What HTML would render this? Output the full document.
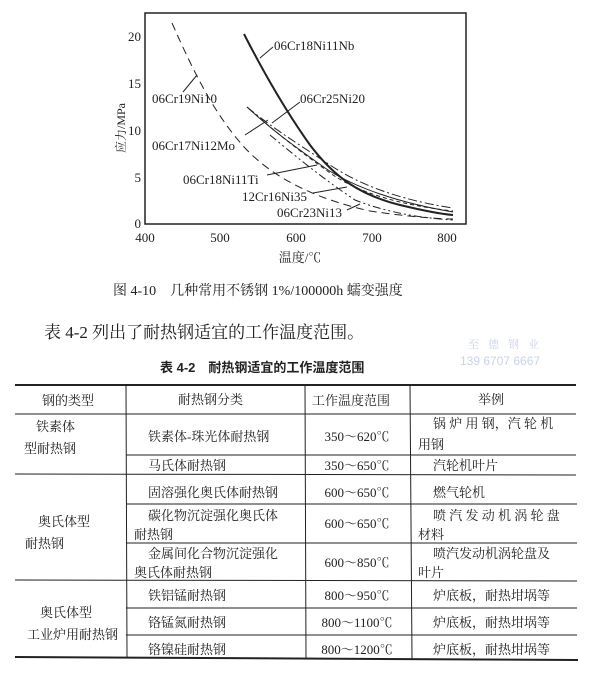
<!DOCTYPE html>
<html><head><meta charset="utf-8"><style>
body{margin:0;background:#fff;width:600px;height:678px;overflow:hidden;position:relative;font-family:"Liberation Serif","Noto Serif CJK SC",serif;color:#222}
.t{position:absolute;white-space:nowrap}
</style></head><body>
<svg width="600" height="310" style="position:absolute;left:0;top:0" font-family="Liberation Serif, Noto Serif CJK SC, serif" fill="#222">
<rect x="145" y="13" width="321" height="211" fill="none" stroke="#222" stroke-width="1.5"/>
<g font-size="13" text-anchor="end">
<text x="141" y="41">20</text><text x="141" y="88">15</text><text x="141" y="135">10</text><text x="141" y="182">5</text><text x="141" y="228">0</text>
</g>
<g font-size="13" text-anchor="middle">
<text x="145" y="242">400</text><text x="220" y="242">500</text><text x="296" y="242">600</text><text x="372" y="242">700</text><text x="447" y="242">800</text>
</g>
<text x="300" y="262" font-size="13" text-anchor="middle">温度/℃</text>
<text transform="translate(125,128) rotate(-90)" font-size="12" text-anchor="middle">应力/MPa</text>
<g fill="none" stroke="#222">
<path d="M244,34 C265,75 285,110 310,145 C335,178 360,195 400,205 C425,211 440,214 453,215" stroke-width="2"/>
<path d="M172,23 C195,75 215,115 245,148 C275,180 320,200 370,211 C410,217 440,219 453,219" stroke-width="1" stroke-dasharray="8,5"/>
<path d="M247,107 C275,130 300,145 330,165 C360,185 400,200 453,208" stroke-width="1" stroke-dasharray="9,3,2,3"/>
<path d="M247,107 C275,133 300,150 325,168 C355,188 400,203 453,212" stroke-width="1"/>
<path d="M255,114 C285,140 305,155 333,175 C360,193 400,205 453,211" stroke-width="1" stroke-dasharray="4,3"/>
<path d="M270,135 C300,160 325,180 355,200 C385,212 420,218 453,220" stroke-width="1" stroke-dasharray="8,3,2,3,2,3"/>
<path d="M260,58 L273,47"/>
<path d="M183,92 L197,75"/>
<path d="M300,102 L272,123"/>
<path d="M245,135 L268,120"/>
<path d="M267,175 L317,165"/>
<path d="M313,193 L347,187"/>
<path d="M347,210 L360,204"/>
</g>
<g font-size="13">
<text x="274" y="50">06Cr18Ni11Nb</text>
<text x="152" y="103">06Cr19Ni10</text>
<text x="300" y="103">06Cr25Ni20</text>
<text x="152" y="150">06Cr17Ni12Mo</text>
<text x="183" y="184">06Cr18Ni11Ti</text>
<text x="242" y="201">12Cr16Ni35</text>
<text x="277" y="217">06Cr23Ni13</text>
</g>
<text x="113" y="295" font-size="14">图 4-10　几种常用不锈钢 1%/100000h 蠕变强度</text>
</svg>
<div class="t" style="left:44px;top:318px;font-size:17px">表 4-2 列出了耐热钢适宜的工作温度范围。</div>
<div class="t" style="left:468px;top:336px;font-size:11px;color:#c9d3e8;letter-spacing:9px">至德钢业</div>
<div class="t" style="left:460px;top:354px;font-size:12px;color:#c9d3e8;font-family:'Liberation Sans',sans-serif">139 6707 6667</div>
<div class="t" style="left:160px;top:357px;font-size:13px;font-weight:bold;font-family:'Liberation Sans','Noto Sans CJK SC',sans-serif">表 4-2　耐热钢适宜的工作温度范围</div>
<svg width="600" height="678" style="position:absolute;left:0;top:0" font-family="Liberation Serif, Noto Serif CJK SC, serif" fill="#222" font-size="13">
<g stroke="#222" fill="none">
<line x1="15" y1="385" x2="576" y2="385" stroke-width="2"/>
<line x1="15" y1="657" x2="578" y2="660" stroke-width="2"/>
<line x1="15" y1="414" x2="576" y2="414"/>
<line x1="126" y1="455" x2="576" y2="455"/>
<line x1="15" y1="474" x2="576" y2="475"/>
<line x1="126" y1="504" x2="577" y2="504"/>
<line x1="126" y1="543" x2="577" y2="543"/>
<line x1="15" y1="580" x2="577" y2="581"/>
<line x1="126" y1="608" x2="577" y2="608"/>
<line x1="126" y1="635" x2="577" y2="635"/>
<line x1="126" y1="385" x2="127" y2="658"/>
<line x1="305" y1="385" x2="306" y2="659"/>
<line x1="410" y1="385" x2="412" y2="659"/>
</g>
<text x="42" y="405">钢的类型</text>
<text x="178" y="404">耐热钢分类</text>
<text x="312" y="405">工作温度范围</text>
<text x="478" y="404">举例</text>
<text x="36" y="431">铁素体</text>
<text x="24" y="453">型耐热钢</text>
<text x="38" y="526">奥氏体型</text>
<text x="25" y="548">耐热钢</text>
<text x="40" y="617">奥氏体型</text>
<text x="27" y="639">工业炉用耐热钢</text>
<text x="148" y="441">铁素体-珠光体耐热钢</text>
<text x="148" y="470">马氏体耐热钢</text>
<text x="148" y="497">固溶强化奥氏体耐热钢</text>
<text x="148" y="520">碳化物沉淀强化奥氏体</text>
<text x="134" y="539">耐热钢</text>
<text x="148" y="558">金属间化合物沉淀强化</text>
<text x="134" y="577">奥氏体耐热钢</text>
<text x="148" y="600">铁铝锰耐热钢</text>
<text x="148" y="627">铬锰氮耐热钢</text>
<text x="148" y="654">铬镍硅耐热钢</text>
<g text-anchor="middle">
<text x="357" y="441">350～620℃</text>
<text x="357" y="470">350～650℃</text>
<text x="357" y="497">600～650℃</text>
<text x="357" y="528">600～650℃</text>
<text x="357" y="567">600～850℃</text>
<text x="357" y="600">800～950℃</text>
<text x="357" y="627">800～1100℃</text>
<text x="357" y="654">800～1200℃</text>
</g>
<text x="433" y="428">锅 炉 用 钢，汽 轮 机</text>
<text x="418" y="449">用钢</text>
<text x="433" y="470">汽轮机叶片</text>
<text x="433" y="497">燃气轮机</text>
<text x="433" y="520">喷 汽 发 动 机 涡 轮 盘</text>
<text x="418" y="539">材料</text>
<text x="433" y="558">喷汽发动机涡轮盘及</text>
<text x="418" y="577">叶片</text>
<text x="433" y="600">炉底板，耐热坩埚等</text>
<text x="433" y="627">炉底板，耐热坩埚等</text>
<text x="433" y="654">炉底板，耐热坩埚等</text>
</svg>
</body></html>
